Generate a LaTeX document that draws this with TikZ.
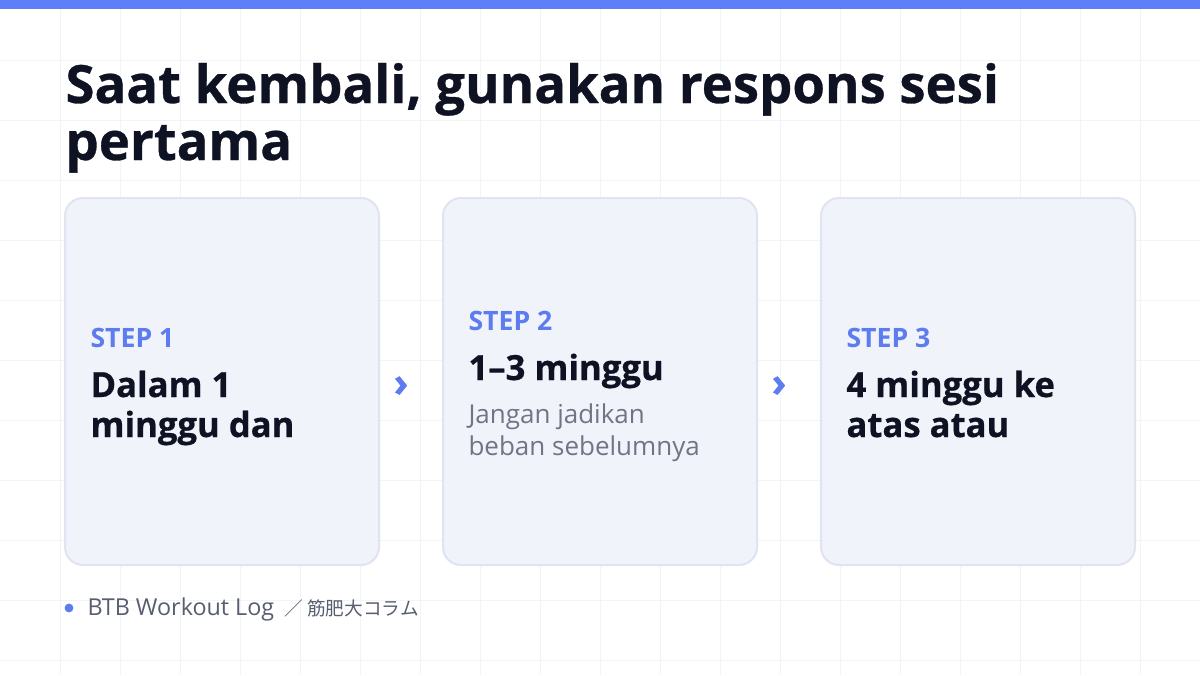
\documentclass[tikz,border=0pt]{standalone}
\usepackage{fontspec}
\setmainfont{Open Sans}
\newfontfamily\heavyfont{Open Sans Bold}[FakeBold=0.6]
\newfontfamily\cjkfont{Noto Sans CJK JP}
\usetikzlibrary{calc}
\definecolor{barblue}{RGB}{95, 127, 248}
\definecolor{stepblue}{RGB}{92, 124, 240}
\definecolor{inkdark}{RGB}{15, 18, 34}
\definecolor{inkgray}{RGB}{112, 117, 132}
\definecolor{footgray}{RGB}{88, 94, 112}
\definecolor{cardfill}{RGB}{241, 243, 251}
\definecolor{cardline}{RGB}{224, 228, 240}
\definecolor{gridline}{RGB}{243, 244, 247}
\tikzset{every picture/.style={line width=0.75pt}}
\tikzset{
  card/.style={draw=cardline, line width=1.5pt, fill=cardfill, rounded corners=13.5pt,
    minimum width=235.5pt, minimum height=275.25pt, inner sep=0pt},
  steplabel/.style={anchor=base west, inner sep=0pt, text=stepblue, font=\fontsize{20}{24}\selectfont\bfseries},
  stephead/.style={anchor=base west, inner sep=0pt, text=inkdark, font=\fontsize{26}{30}\selectfont\heavyfont},
  stepnote/.style={anchor=base west, inner sep=0pt, text=inkgray, font=\fontsize{19.5}{23}\selectfont},
  chevron/.style={inner sep=0pt, text=stepblue, font=\fontsize{30}{32}\selectfont\heavyfont}
}

\begin{document}
\begin{tikzpicture}[x=0.75pt,y=0.75pt,yscale=-1,xscale=1]
\useasboundingbox (0,0) rectangle (1200,675);

%Background and grid
\fill [white] (0,0) rectangle (1200,675);
\foreach \gx in {60,120,...,1140} \draw [gridline] (\gx,0) -- (\gx,675);
\foreach \gy in {60,120,...,660} \draw [gridline] (0,\gy) -- (1200,\gy);
%Shape: top bar
\fill [barblue] (0,0) rectangle (1200,9);

% Title
\draw (65,103) node [anchor=base west][inner sep=0pt][text=inkdark, font=\fontsize{39.5}{44}\selectfont\heavyfont] (title1) {Saat kembali, gunakan respons sesi};
\draw (65,160) node [anchor=base west][inner sep=0pt][text=inkdark, font=\fontsize{39.5}{44}\selectfont\heavyfont] (title2) {pertama};

%Shape: cards
\node [card] (card1) at (222,381.5) {};
\node [card] (card2) at (600,381.5) {};
\node [card] (card3) at (978,381.5) {};

%Chevrons between cards
\node [chevron] (chev1) at ($(card1.east)!0.5!(card2.west)+(-10,5)$) {›};
\node [chevron] (chev2) at ($(card2.east)!0.5!(card3.west)+(-10,5)$) {›};

% Text Node: step 1
\draw (90,347) node [steplabel] (lab1) {STEP 1};
\draw (90,397) node [stephead] (head1a) {Dalam 1};
\draw (90,437) node [stephead] (head1b) {minggu dan};
% Text Node: step 2
\draw (468,330) node [steplabel] (lab2) {STEP 2};
\draw (468,380) node [stephead] (head2) {1–3 minggu};
\draw (468,423) node [stepnote] (note2a) {Jangan jadikan};
\draw (468,455) node [stepnote] (note2b) {beban sebelumnya};
% Text Node: step 3
\draw (846,347) node [steplabel] (lab3) {STEP 3};
\draw (846,397) node [stephead] (head3a) {4 minggu ke};
\draw (846,437) node [stephead] (head3b) {atas atau};

% Footer
\fill [stepblue] (69,608) circle [radius=3.3pt];
\draw (87,615) node [anchor=base west][inner sep=0pt][text=footgray, font=\fontsize{17.5}{18}\selectfont] (footer) {BTB Workout Log {\cjkfont\fontsize{14}{18}\selectfont\ ／ 筋肥大コラム}};

\end{tikzpicture}
\end{document}
